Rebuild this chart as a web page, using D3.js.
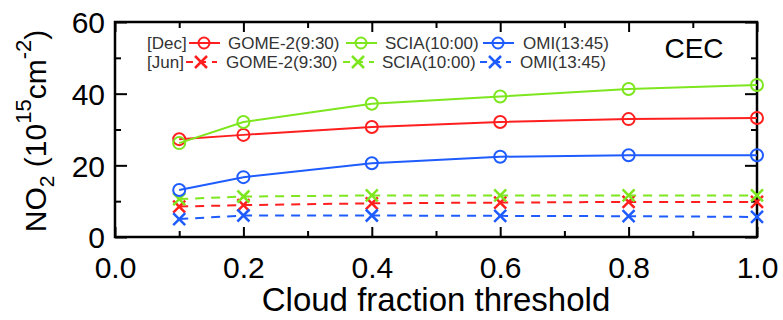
<!DOCTYPE html>
<html>
<head>
<meta charset="utf-8">
<script src="https://cdn.jsdelivr.net/npm/d3@7"></script>
<style>
  body { margin: 0; background: #fff; }
  svg { display: block; font-family: "Liberation Sans", Arial, sans-serif; }
  .axis path { display: none; }
  .axis line { stroke: #000; stroke-width: 2; }
  .axis text { fill: #000; font-size: 30px; }
</style>
</head>
<body>
<div id="chart"></div>
<script>
// cloud fraction thresholds
var thresholds = [0.1, 0.2, 0.4, 0.6, 0.8, 1.0];

// December (solid, circles)
var decGome = [27.3, 28.5, 30.7, 32.1, 32.9, 33.2];
var decScia = [26.2, 32.1, 37.2, 39.2, 41.3, 42.4];
var decOmi = [13.1, 16.7, 20.6, 22.4, 22.8, 22.8];

// June (dashed, crosses)
var junGome = [8.5, 8.9, 9.4, 9.6, 9.8, 9.8];
var junScia = [10.6, 11.3, 11.6, 11.6, 11.6, 11.6];
var junOmi = [5.0, 6.0, 6.0, 5.9, 5.8, 5.6];

var xMajor = [0, 0.2, 0.4, 0.6, 0.8, 1.0];
var xMinor = [0.1, 0.3, 0.5, 0.7, 0.9];
var yMajor = [0, 20, 40, 60];
var yMinor = [10, 30, 50];

var satNames = ["GOME-2(9:30)", "SCIA(10:00)", "OMI(13:45)"];
var colors = ["#ff1f1f", "#7de61e", "#1f5cff"];

// 1. svg setup
var svgWidth = 783;
var svgHeight = 320;
var margin = { top: 22, right: 26, bottom: 83, left: 115 };
var width = svgWidth - margin.left - margin.right;
var height = svgHeight - margin.top - margin.bottom;

var svg = d3.select("#chart").append("svg")
  .attr("width", svgWidth)
  .attr("height", svgHeight);

var chartGroup = svg.append("g")
  .attr("transform", `translate(${margin.left}, ${margin.top})`);

var xScale = d3.scaleLinear().domain([0, 1]).range([0, width]);
var yScale = d3.scaleLinear().domain([0, 60]).range([height, 0]);

// 2. axes (ticks pointing inward)
function addAxis(axis, tr, labels) {
  var g = chartGroup.append("g").attr("class", "axis").attr("transform", tr).call(axis);
  if (!labels) g.selectAll("text").remove();
  return g;
}
var xAxis = addAxis(d3.axisBottom(xScale).tickValues(xMajor).tickSize(-10).tickSizeOuter(0).tickPadding(12)
  .tickFormat(d3.format(".1f")), `translate(0, ${height})`, true);
addAxis(d3.axisBottom(xScale).tickValues(xMinor).tickSize(-6).tickSizeOuter(0), `translate(0, ${height})`, false);
addAxis(d3.axisTop(xScale).tickValues(xMajor).tickSize(-10).tickSizeOuter(0), "translate(0,0)", false);
addAxis(d3.axisTop(xScale).tickValues(xMinor).tickSize(-6).tickSizeOuter(0), "translate(0,0)", false);
var yAxis = addAxis(d3.axisLeft(yScale).tickValues(yMajor).tickSize(-12).tickSizeOuter(0).tickPadding(10), "translate(0,0)", true);
addAxis(d3.axisLeft(yScale).tickValues(yMinor).tickSize(-6).tickSizeOuter(0), "translate(0,0)", false);
addAxis(d3.axisRight(yScale).tickValues(yMajor).tickSize(-12).tickSizeOuter(0), `translate(${width},0)`, false);
addAxis(d3.axisRight(yScale).tickValues(yMinor).tickSize(-6).tickSizeOuter(0), `translate(${width},0)`, false);

xAxis.selectAll("text").attr("dy", "0.95em");
yAxis.selectAll("text").attr("dy", "0.36em");

// plot frame
chartGroup.append("rect")
  .attr("width", width)
  .attr("height", height)
  .attr("fill", "none")
  .attr("stroke", "#000")
  .attr("stroke-width", 2.5);

// 3. series
var line = d3.line()
  .x(d => xScale(d[0]))
  .y(d => yScale(d[1]));

function crossPath(cx, cy, s) {
  return `M${cx - s},${cy - s}L${cx + s},${cy + s}M${cx - s},${cy + s}L${cx + s},${cy - s}`;
}

var junSeries = [junGome, junScia, junOmi];
var decSeries = [decGome, decScia, decOmi];

junSeries.forEach(function (vals, i) {
  var pts = thresholds.map((t, j) => [t, vals[j]]);
  chartGroup.append("path")
    .attr("d", line(pts))
    .attr("fill", "none")
    .attr("stroke", colors[i])
    .attr("stroke-width", 2)
    .attr("stroke-dasharray", "9,7");
  chartGroup.selectAll(null)
    .data(pts)
    .enter()
    .append("path")
    .attr("d", d => crossPath(xScale(d[0]), yScale(d[1]), 6))
    .attr("stroke", colors[i])
    .attr("stroke-width", 2.5)
    .attr("fill", "none");
});

decSeries.forEach(function (vals, i) {
  var pts = thresholds.map((t, j) => [t, vals[j]]);
  chartGroup.append("path")
    .attr("d", line(pts))
    .attr("fill", "none")
    .attr("stroke", colors[i])
    .attr("stroke-width", 2);
  chartGroup.selectAll(null)
    .data(pts)
    .enter()
    .append("circle")
    .attr("cx", d => xScale(d[0]))
    .attr("cy", d => yScale(d[1]))
    .attr("r", 6)
    .attr("fill", "none")
    .attr("stroke", colors[i])
    .attr("stroke-width", 2);
});

// 4. legend
var legend = svg.append("g").attr("font-size", "17px").attr("fill", "#333");
var rowY = [43, 62];
legend.append("text").attr("x", 147).attr("y", rowY[0] + 6).text("[Dec]");
legend.append("text").attr("x", 147).attr("y", rowY[1] + 6).text("[Jun]");

var keyX = [189, 346, 483];
var labelX = [228, 385, 523];
var jLabelX = [226, 382, 520];
satNames.forEach(function (name, i) {
  // Dec row
  legend.append("line")
    .attr("x1", keyX[i]).attr("x2", keyX[i] + 31)
    .attr("y1", rowY[0]).attr("y2", rowY[0])
    .attr("stroke", colors[i]).attr("stroke-width", 2);
  legend.append("circle")
    .attr("cx", keyX[i] + 15).attr("cy", rowY[0]).attr("r", 5.5)
    .attr("fill", "none").attr("stroke", colors[i]).attr("stroke-width", 2);
  legend.append("text").attr("x", labelX[i]).attr("y", rowY[0] + 6).text(name);

  // Jun row
  legend.append("line")
    .attr("x1", keyX[i] - 3).attr("x2", keyX[i] + 28)
    .attr("y1", rowY[1]).attr("y2", rowY[1])
    .attr("stroke", colors[i]).attr("stroke-width", 2)
    .attr("stroke-dasharray", "7,6");
  legend.append("path")
    .attr("d", crossPath(keyX[i] + 12, rowY[1], 6))
    .attr("stroke", colors[i]).attr("stroke-width", 2.5).attr("fill", "none");
  legend.append("text").attr("x", jLabelX[i]).attr("y", rowY[1] + 6).text(name);
});

// region label
svg.append("text")
  .attr("x", 694)
  .attr("y", 58)
  .attr("text-anchor", "middle")
  .attr("font-size", "28px")
  .attr("fill", "#000")
  .text("CEC");

// 5. axis titles
svg.append("text")
  .attr("x", margin.left + width / 2)
  .attr("y", 311)
  .attr("text-anchor", "middle")
  .attr("font-size", "33px")
  .attr("fill", "#000")
  .text("Cloud fraction threshold");

var yTitle = svg.append("text")
  .attr("transform", "translate(46, 131) rotate(-90)")
  .attr("text-anchor", "middle")
  .attr("font-size", "30px")
  .attr("fill", "#000");
yTitle.append("tspan").text("NO");
yTitle.append("tspan").attr("font-size", "21px").attr("dy", 8).text("2");
yTitle.append("tspan").attr("dy", -8).text(" (10");
yTitle.append("tspan").attr("font-size", "22px").attr("dy", -15).text("15");
yTitle.append("tspan").attr("dy", 15).text("cm");
yTitle.append("tspan").attr("font-size", "22px").attr("dy", -15).text("-2");
yTitle.append("tspan").attr("dy", 15).text(")");
</script>
</body>
</html>
